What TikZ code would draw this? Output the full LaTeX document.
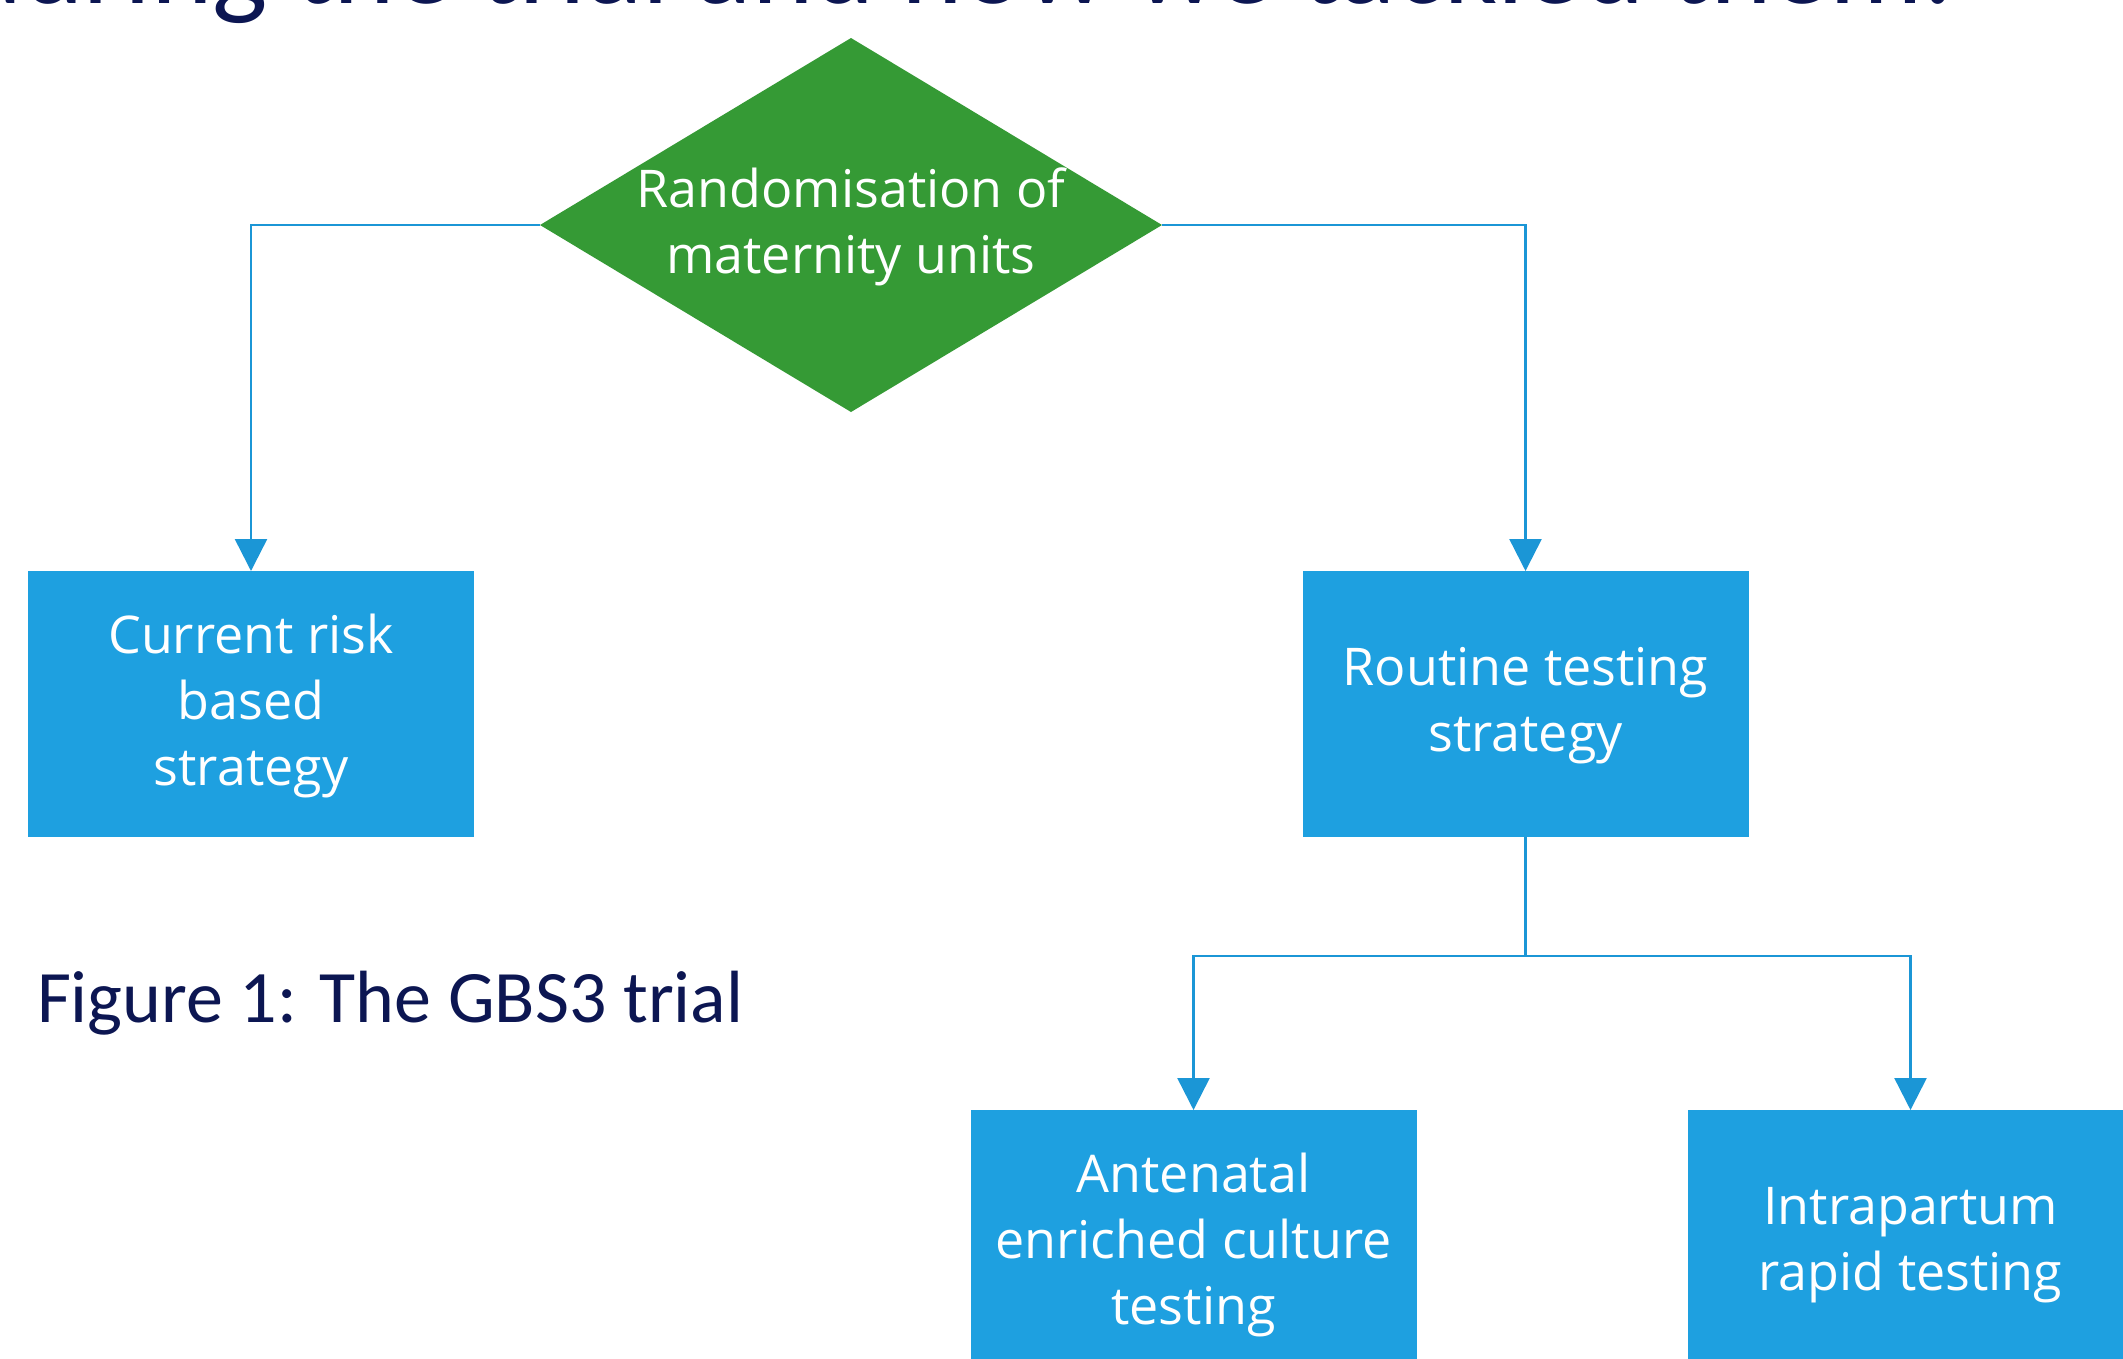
\documentclass[tikz,border=0pt]{standalone}
\usepackage{fontspec}
\setmainfont{Open Sans}
\newfontfamily\carl{Carlito}
\usetikzlibrary{shapes.geometric,arrows.meta}
\definecolor{boxblue}{HTML}{1EA0E0}
\definecolor{lineblue}{HTML}{1B96D6}
\definecolor{dgreen}{HTML}{359A35}
\definecolor{navy}{HTML}{0C1652}
\tikzset{
  stepbox/.style={rectangle, fill=boxblue, draw=none, minimum width=446pt, minimum height=266pt,
    inner sep=0pt, outer sep=0pt, align=center, text=white, font=\fontsize{52}{66}\selectfont},
  boxtext/.style={text=white, align=center, inner sep=0pt, font=\fontsize{52}{66}\selectfont},
  decision/.style={diamond, fill=dgreen, draw=none, minimum width=622pt, minimum height=374pt,
    inner sep=0pt, outer sep=0pt},
  conn/.style={draw=lineblue, line width=2.5pt, -{Triangle[width=32pt,length=32pt]}},
  plainconn/.style={draw=lineblue, line width=2.5pt},
  navytext/.style={text=navy, inner sep=0pt, outer sep=0pt}
}
\begin{document}
\begin{tikzpicture}[x=1pt,y=-1pt]
\clip (0,0) rectangle (2123,1358);
\fill[white] (0,0) rectangle (2123,1358);
% cut-off title
\node[navytext, anchor=base east, font=\carl\fontsize{117}{135}\selectfont] (title) at (1953,3) {during the trial and how we tackled them.};
% decision
\node[decision, label={[boxtext, yshift=-2pt]center:Randomisation of\\maternity units}] (d) at (851,225) {};
% boxes
\node[stepbox, label={[boxtext, yshift=-2pt]center:Current risk\\based\\strategy}] (cur) at (251,704) {};
\node[stepbox, label={[boxtext, yshift=-2pt]center:Routine testing\\strategy}] (rout) at (1525.5,704) {};
\node[stepbox, label={[boxtext, yshift=-2pt]center:Antenatal\\enriched culture\\testing}] (ante) at (1193.5,1243) {};
\node[stepbox, label={[boxtext, yshift=-2pt]center:Intrapartum\\rapid testing}] (intra) at (1910.5,1243) {};
% caption
\node[navytext, anchor=base west, font=\carl\fontsize{74}{90}\selectfont] (cap) at (37,1022) {Figure 1: The GBS3 trial};
% connectors
\coordinate (j) at (1525.5,956);
\draw[conn] (d.west) -| (cur.north);
\draw[conn] (d.east) -| (rout.north);
\draw[plainconn] (rout.south) -- (j);
\draw[conn] (j) -| (ante.north);
\draw[conn] (j) -| (intra.north);
\end{tikzpicture}
\end{document}
